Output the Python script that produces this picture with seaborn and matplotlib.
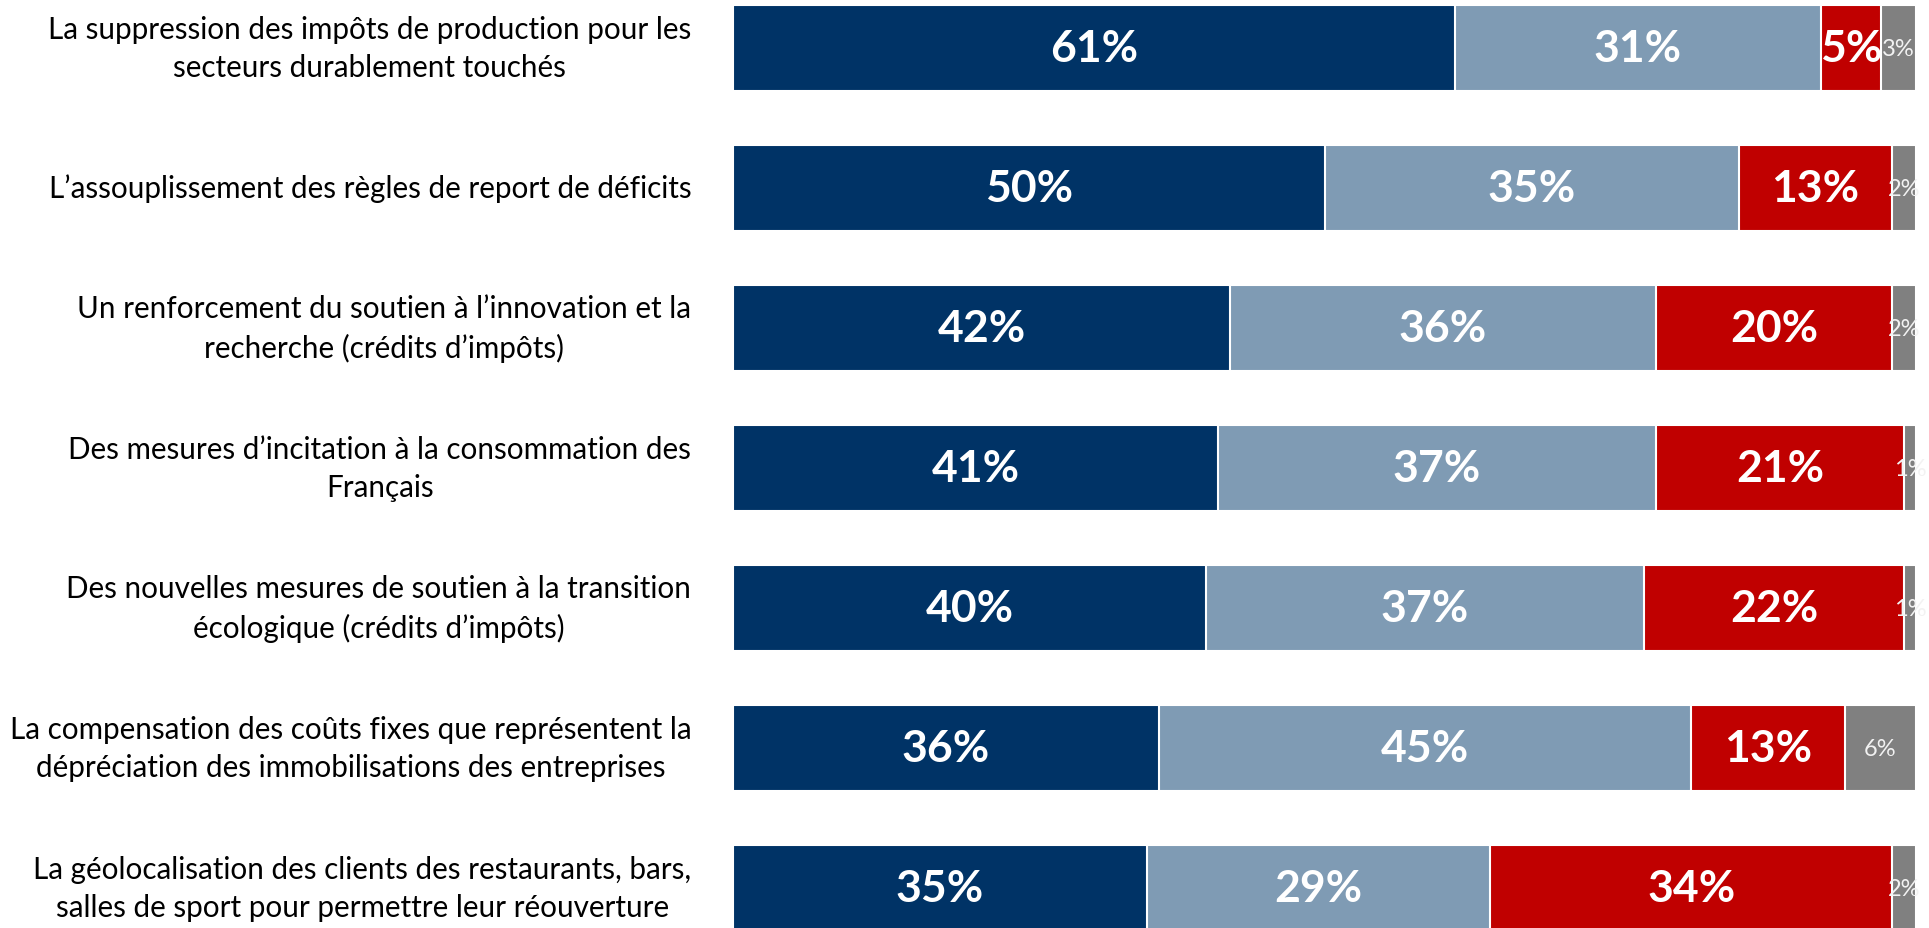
import matplotlib
matplotlib.use("Agg")
import matplotlib.pyplot as plt
import seaborn as sns
import pandas as pd
import numpy as np

categories = [
    "La suppression des impôts de production pour les\nsecteurs durablement touchés",
    "L’assouplissement des règles de report de déficits",
    "Un renforcement du soutien à l’innovation et la\nrecherche (crédits d’impôts)",
    "Des mesures d’incitation à la consommation des\nFrançais",
    "Des nouvelles mesures de soutien à la transition\nécologique (crédits d’impôts)",
    "La compensation des coûts fixes que représentent la\ndépréciation des immobilisations des entreprises",
    "La géolocalisation des clients des restaurants, bars,\nsalles de sport pour permettre leur réouverture",
]
serie1 = [61, 50, 42, 41, 40, 36, 35]
serie2 = [31, 35, 36, 37, 37, 45, 29]
serie3 = [5, 13, 20, 21, 22, 13, 34]
serie4 = [3, 2, 2, 1, 1, 6, 2]

series = [serie1, serie2, serie3, serie4]
colors = ["#003366", "#7F9BB4", "#C00000", "#808080"]

sns.set_theme(style="white")
plt.rcParams["font.family"] = ["Lato", "DejaVu Sans"]

fig = plt.figure(figsize=(19.29, 9.29), dpi=100)
ax = fig.add_axes([733 / 1929, 0, 1183 / 1929, 1])

cums = np.cumsum(np.array(series), axis=0)
df = pd.DataFrame({"cat": categories})
bar_h = 86 / 140
for i in range(len(series) - 1, -1, -1):
    df["v"] = cums[i]
    sns.barplot(data=df, y="cat", x="v", orient="h", color=colors[i],
                width=bar_h, edgecolor="white", linewidth=1.5,
                saturation=1, ax=ax, errorbar=None)

for i, s in enumerate(series):
    starts = cums[i] - np.array(s)
    for r, v in enumerate(s):
        cx = starts[r] + v / 2
        if i < 3:
            ax.text(cx, r, f"{v}%", ha="center", va="center", color="white",
                    fontsize=32, fontweight="bold")
        else:
            ax.text(cx, r, f"{v}%", ha="center", va="center", color="#F2F2F2",
                    fontsize=17, clip_on=False)

ax.set_xlim(0, 100)
ax.set_ylim((929 - 49) / 140, -49 / 140)
ax.set_xlabel("")
ax.set_ylabel("")
ax.set_xticks([])
sns.despine(ax=ax, left=True, bottom=True)
ax.tick_params(axis="y", length=0, pad=30, labelsize=21.3, labelcolor="black")
for lab in ax.get_yticklabels():
    lab.set_multialignment("center")
    lab.set_linespacing(1.45)
    lab.set_verticalalignment("center")

fig.savefig("out.png", dpi=100)
